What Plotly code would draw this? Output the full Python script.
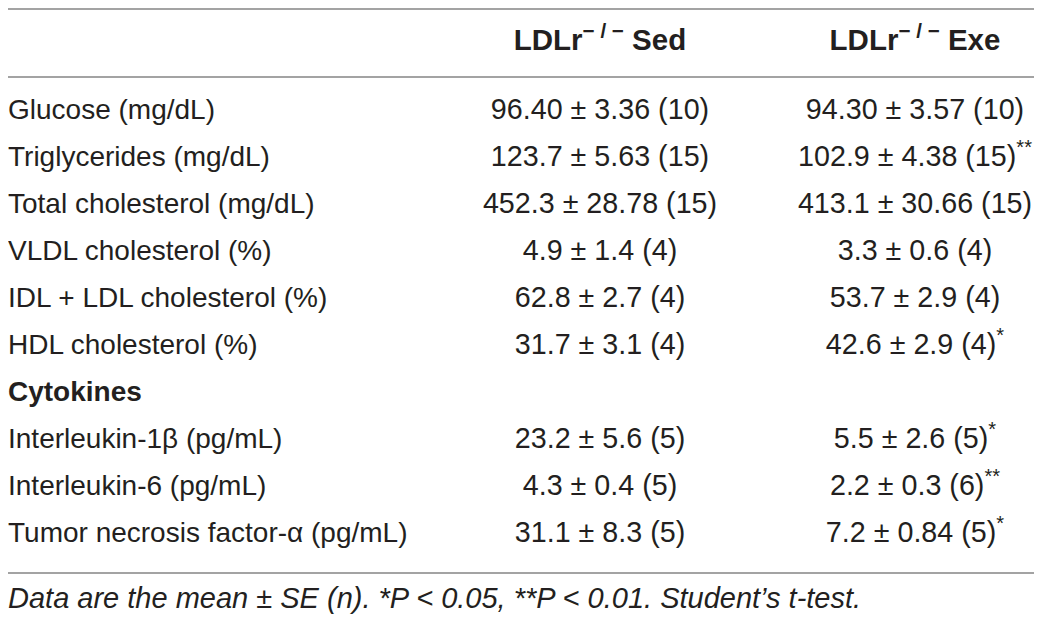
import plotly.graph_objects as go

# table content
row_labels = ["Glucose (mg/dL)", "Triglycerides (mg/dL)", "Total cholesterol (mg/dL)",
              "VLDL cholesterol (%)", "IDL + LDL cholesterol (%)", "HDL cholesterol (%)",
              "Cytokines",
              "Interleukin-1β (pg/mL)", "Interleukin-6 (pg/mL)", "Tumor necrosis factor-α (pg/mL)"]
section_rows = ["Cytokines"]

col_headers = ["LDLr<sup>− / −</sup> Sed", "LDLr<sup>− / −</sup> Exe"]

sed_mean = ["96.40", "123.7", "452.3", "4.9", "62.8", "31.7", "", "23.2", "4.3", "31.1"]
sed_se = ["3.36", "5.63", "28.78", "1.4", "2.7", "3.1", "", "5.6", "0.4", "8.3"]
sed_n = [10, 15, 15, 4, 4, 4, None, 5, 5, 5]

exe_mean = ["94.30", "102.9", "413.1", "3.3", "53.7", "42.6", "", "5.5", "2.2", "7.2"]
exe_se = ["3.57", "4.38", "30.66", "0.6", "2.9", "2.9", "", "2.6", "0.3", "0.84"]
exe_n = [10, 15, 15, 4, 4, 4, None, 5, 6, 5]
exe_sig = ["", "**", "", "", "", "*", "", "*", "**", "*"]

footnote = "Data are the mean ± SE (n). *P < 0.05, **P < 0.01. Student’s t-test."

FONT = "Liberation Sans, Arial, sans-serif"
TXT = "#231f20"
LINE = "#a3a3a3"


def cell(m, s, n, sig=""):
    out = m + " ± " + s + " (" + str(n) + ")"
    if sig:
        out += "<sup>" + sig + "</sup>"
    return out


rows = list(range(len(row_labels)))
lab_txt = ["<b>" + l + "</b>" if l in section_rows else l for l in row_labels]

# only rows that carry values
val_rows = [i for i in rows if sed_mean[i]]
sed_txt = [cell(sed_mean[i], sed_se[i], sed_n[i]) for i in val_rows]
exe_txt = [cell(exe_mean[i], exe_se[i], exe_n[i], exe_sig[i]) for i in val_rows]

# layout positions (x in window pixels, y in row units)
X_LAB, X_SED, X_EXE = 8, 600, 915
Y_HEAD = -1.47
Y_TOP, Y_MID, Y_BOT = -2.19, -0.745, 9.81
Y_FOOT = 10.40


def text_trace(xs, ys, txt, pos, size=28):
    return go.Scatter(x=xs, y=ys, text=txt, mode="text", textposition=pos,
                      hoverinfo="skip", cliponaxis=False,
                      textfont=dict(family=FONT, size=size, color=TXT))


fig = go.Figure()
fig.add_trace(text_trace([X_LAB] * len(rows), rows, lab_txt, "middle right"))
fig.add_trace(text_trace([X_SED] * len(val_rows), val_rows, sed_txt, "middle center", 28.7))
fig.add_trace(text_trace([X_EXE] * len(val_rows), val_rows, exe_txt, "middle center", 28.7))
# header
fig.add_trace(text_trace([X_SED, X_EXE], [Y_HEAD, Y_HEAD],
                         ["<b>" + h + "</b>" for h in col_headers], "middle center", 29.5))
# footnote
fig.add_trace(text_trace([X_LAB], [Y_FOOT], ["<i>" + footnote + "</i>"], "middle right", 29))

for yy in [Y_TOP, Y_MID, Y_BOT]:
    fig.add_shape(type="line", xref="x", yref="y", x0=8, x1=1034, y0=yy, y1=yy,
                  line=dict(color=LINE, width=2))

fig.update_layout(
    width=1026, height=606,
    margin=dict(l=0, r=0, t=0, b=0),
    paper_bgcolor="white", plot_bgcolor="white",
    showlegend=False,
    xaxis=dict(range=[8, 1034], visible=False, fixedrange=True),
    yaxis=dict(range=[10.681, -2.213], visible=False, fixedrange=True),
)

fig.write_html("out.html", config={'displayModeBar': False})
